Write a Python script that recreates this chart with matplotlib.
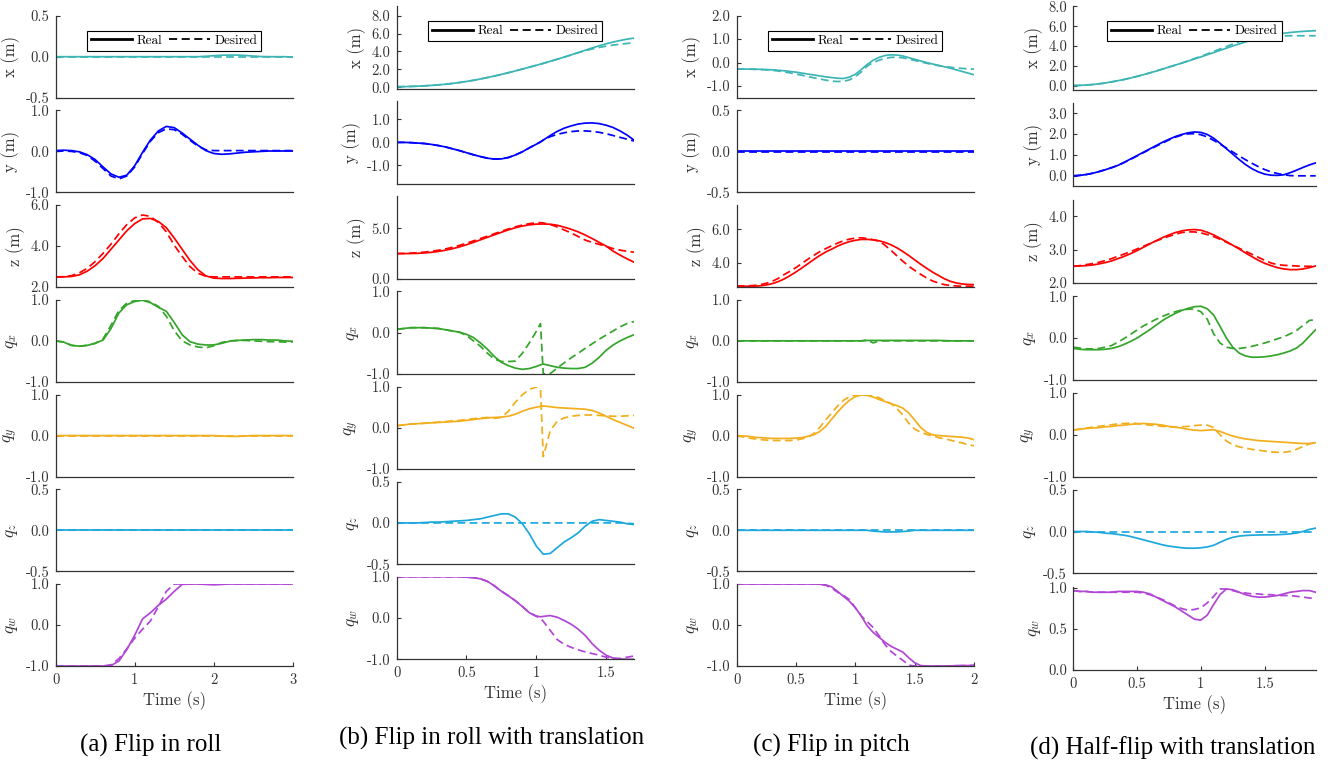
import matplotlib
matplotlib.use('Agg')
import matplotlib.pyplot as plt
from matplotlib.lines import Line2D
from matplotlib.ticker import FormatStrFormatter

plt.rcParams['font.family'] = 'cmr10'
plt.rcParams['mathtext.fontset'] = 'cm'
plt.rcParams['axes.unicode_minus'] = False

# ---------------- (a) Flip in roll ----------------
t_a = [0.0, 0.1, 0.2, 0.3, 0.4, 0.5, 0.6, 0.7, 0.8, 0.9, 1.0, 1.1, 1.2, 1.3, 1.4, 1.5,
       1.6, 1.7, 1.8, 1.9, 2.0, 2.1, 2.2, 2.3, 2.4, 2.5, 2.6, 2.7, 2.8, 2.9, 3.0]
xa_real = [0.0, 0.0, 0.0, 0.0, 0.0, 0.0, 0.0, 0.0, 0.0, 0.0, 0.0, 0.0, 0.0, 0.0, 0.0, 0.0,
           0.0, 0.0, 0.0, 0.005, 0.012, 0.018, 0.02, 0.02, 0.015, 0.008, 0.002, 0.0, 0.0, 0.0, -0.005]
xa_des = [0.0, 0.0, 0.0, 0.0, 0.0, 0.0, 0.0, 0.0, 0.0, 0.0, 0.0, 0.0, 0.0, 0.0, 0.0, 0.0,
          0.0, 0.0, 0.0, 0.0, 0.0, 0.0, 0.0, 0.0, 0.0, 0.0, 0.0, 0.0, 0.0, 0.0, 0.0]
ya_real = [0.02, 0.03, 0.02, -0.01, -0.08, -0.2, -0.38, -0.55, -0.63, -0.58, -0.35, -0.02, 0.28, 0.5,
           0.61, 0.58, 0.45, 0.3, 0.15, 0.02, -0.05, -0.07, -0.06, -0.04, -0.02, -0.01, 0.0, 0.01,
           0.01, 0.01, 0.01]
ya_des = [0.0, 0.01, 0.0, -0.03, -0.1, -0.24, -0.42, -0.6, -0.67, -0.6, -0.38, -0.05, 0.25, 0.46,
          0.55, 0.53, 0.42, 0.27, 0.13, 0.04, 0.02, 0.02, 0.02, 0.02, 0.02, 0.02, 0.02, 0.02,
          0.02, 0.02, 0.02]
za_real = [2.5, 2.5, 2.52, 2.6, 2.78, 3.05, 3.4, 3.85, 4.3, 4.75, 5.1, 5.33, 5.35, 5.2, 4.9, 4.4,
           3.85, 3.3, 2.85, 2.55, 2.44, 2.42, 2.42, 2.43, 2.44, 2.45, 2.46, 2.46, 2.47, 2.47, 2.47]
za_des = [2.5, 2.51, 2.56, 2.7, 2.92, 3.25, 3.65, 4.1, 4.6, 5.05, 5.38, 5.52, 5.45, 5.15, 4.7, 4.05,
          3.5, 3.0, 2.68, 2.53, 2.5, 2.5, 2.5, 2.5, 2.5, 2.5, 2.5, 2.5, 2.5, 2.5, 2.5]
qxa_real = [0.0, -0.03, -0.11, -0.13, -0.11, -0.06, 0.02, 0.3, 0.68, 0.88, 0.96, 0.99, 0.93, 0.82,
            0.72, 0.45, 0.15, -0.02, -0.08, -0.1, -0.1, -0.06, -0.01, 0.01, 0.02, 0.03, 0.03, 0.02,
            0.02, 0.0, -0.01]
qxa_des = [0.0, -0.03, -0.11, -0.13, -0.11, -0.06, 0.05, 0.38, 0.74, 0.92, 0.98, 1.0, 0.95, 0.84,
           0.6, 0.25, 0.0, -0.1, -0.15, -0.17, -0.12, -0.04, 0.0, 0.01, 0.01, 0.0, -0.01, -0.02,
           -0.02, -0.03, -0.03]
qya_real = [0.0, 0.0, 0.0, 0.0, 0.0, 0.0, 0.0, 0.0, 0.0, 0.0, 0.0, 0.0, 0.0, 0.0, 0.0, 0.0,
            0.0, 0.0, 0.0, 0.0, 0.0, -0.01, -0.02, -0.02, -0.01, 0.0, 0.0, 0.0, 0.0, 0.0, 0.0]
qya_des = [0.0, 0.0, 0.0, 0.0, 0.0, 0.0, 0.0, 0.0, 0.0, 0.0, 0.0, 0.0, 0.0, 0.0, 0.0, 0.0,
           0.0, 0.0, 0.0, 0.0, 0.0, 0.0, 0.0, 0.0, 0.0, 0.0, 0.0, 0.0, 0.0, 0.0, 0.0]
qza_real = [0.0, 0.0, 0.0, 0.0, 0.0, 0.0, 0.0, 0.0, 0.0, 0.0, 0.0, 0.0, 0.0, 0.0, 0.0, 0.0,
            0.0, 0.0, 0.0, 0.0, 0.0, 0.0, 0.0, 0.0, 0.0, 0.0, 0.0, 0.0, 0.0, 0.0, 0.0]
qza_des = [0.0, 0.0, 0.0, 0.0, 0.0, 0.0, 0.0, 0.0, 0.0, 0.0, 0.0, 0.0, 0.0, 0.0, 0.0, 0.0,
           0.0, 0.0, 0.0, 0.0, 0.0, 0.0, 0.0, 0.0, 0.0, 0.0, 0.0, 0.0, 0.0, 0.0, 0.0]
qwa_real = [-1.0, -1.0, -1.0, -1.0, -1.0, -1.0, -1.0, -0.99, -0.88, -0.6, -0.25, 0.15, 0.3, 0.48,
            0.63, 0.82, 0.99, 1.0, 1.0, 0.99, 0.98, 0.99, 1.0, 1.0, 1.0, 1.0, 1.0, 1.0, 1.0, 1.0, 1.0]
qwa_des = [-1.0, -1.0, -1.0, -1.0, -1.0, -1.0, -1.0, -0.97, -0.82, -0.58, -0.32, -0.1, 0.1, 0.45,
           0.82, 1.0, 1.0, 1.0, 1.0, 1.0, 1.0, 1.0, 1.0, 1.0, 1.0, 1.0, 1.0, 1.0, 1.0, 1.0, 1.0]

# ---------------- (b) Flip in roll with translation ----------------
t_b = [0.0, 0.05, 0.1, 0.15, 0.2, 0.25, 0.3, 0.35, 0.4, 0.45, 0.5, 0.55, 0.6, 0.65, 0.7, 0.75,
       0.8, 0.85, 0.9, 0.95, 1.0, 1.03, 1.05, 1.1, 1.15, 1.2, 1.25, 1.3, 1.35, 1.4, 1.45, 1.5,
       1.55, 1.6, 1.65, 1.7]
xb_real = [0.05, 0.06, 0.08, 0.11, 0.15, 0.2, 0.26, 0.33, 0.42, 0.52, 0.64, 0.77, 0.92, 1.08, 1.25,
           1.43, 1.62, 1.82, 2.03, 2.24, 2.45, 2.58, 2.67, 2.9, 3.13, 3.37, 3.62, 3.88, 4.14, 4.4,
           4.64, 4.86, 5.06, 5.23, 5.38, 5.5]
xb_des = [0.05, 0.06, 0.08, 0.11, 0.15, 0.2, 0.26, 0.33, 0.42, 0.52, 0.64, 0.77, 0.92, 1.08, 1.25,
          1.43, 1.62, 1.82, 2.03, 2.24, 2.45, 2.58, 2.67, 2.9, 3.13, 3.37, 3.62, 3.86, 4.08, 4.28,
          4.45, 4.6, 4.72, 4.82, 4.9, 4.96]
yb_real = [0.0, 0.0, -0.01, -0.03, -0.05, -0.09, -0.14, -0.2, -0.28, -0.36, -0.45, -0.54, -0.62,
           -0.69, -0.73, -0.72, -0.66, -0.55, -0.41, -0.24, -0.08, 0.02, 0.1, 0.3, 0.48, 0.62, 0.72,
           0.8, 0.84, 0.85, 0.82, 0.75, 0.65, 0.5, 0.32, 0.1]
yb_des = [0.0, 0.0, -0.01, -0.03, -0.05, -0.09, -0.14, -0.2, -0.28, -0.36, -0.45, -0.54, -0.62,
          -0.69, -0.73, -0.72, -0.66, -0.55, -0.41, -0.24, -0.08, 0.02, 0.1, 0.25, 0.35, 0.42, 0.47,
          0.5, 0.5, 0.48, 0.44, 0.38, 0.3, 0.22, 0.14, 0.06]
zb_real = [2.5, 2.5, 2.51, 2.53, 2.57, 2.63, 2.72, 2.84, 2.99, 3.17, 3.38, 3.62, 3.87, 4.12, 4.37,
           4.62, 4.86, 5.07, 5.24, 5.36, 5.43, 5.44, 5.44, 5.42, 5.32, 5.13, 4.92, 4.66, 4.35, 4.0,
           3.62, 3.25, 2.75, 2.35, 1.98, 1.65]
zb_des = [2.5, 2.52, 2.55, 2.59, 2.65, 2.73, 2.84, 2.97, 3.13, 3.32, 3.53, 3.76, 4.0, 4.24, 4.48,
          4.72, 4.95, 5.16, 5.34, 5.48, 5.56, 5.57, 5.55, 5.4, 5.15, 4.85, 4.55, 4.2, 3.85, 3.62,
          3.42, 3.22, 3.0, 2.85, 2.73, 2.64]
qxb_real = [0.08, 0.1, 0.12, 0.12, 0.12, 0.11, 0.1, 0.07, 0.04, 0.01, -0.04, -0.12, -0.25, -0.4,
            -0.58, -0.72, -0.8, -0.86, -0.89, -0.87, -0.82, -0.78, -0.76, -0.8, -0.84, -0.86, -0.87,
            -0.87, -0.84, -0.74, -0.6, -0.43, -0.3, -0.2, -0.12, -0.05]
qxb_des = [0.08, 0.1, 0.12, 0.12, 0.12, 0.11, 0.1, 0.07, 0.04, 0.01, -0.07, -0.2, -0.33, -0.5,
           -0.64, -0.7, -0.7, -0.69, -0.5, -0.25, 0.03, 0.22, -1.0, -0.99, -0.86, -0.73, -0.61, -0.5,
           -0.38, -0.27, -0.16, -0.06, 0.04, 0.14, 0.22, 0.27]
qyb_real = [0.05, 0.07, 0.09, 0.1, 0.11, 0.12, 0.13, 0.14, 0.15, 0.16, 0.18, 0.2, 0.22, 0.24, 0.25,
            0.26, 0.28, 0.33, 0.4, 0.46, 0.5, 0.52, 0.53, 0.51, 0.49, 0.48, 0.47, 0.46, 0.45, 0.42,
            0.36, 0.28, 0.2, 0.13, 0.06, -0.01]
qyb_des = [0.05, 0.07, 0.09, 0.1, 0.11, 0.12, 0.14, 0.15, 0.17, 0.18, 0.2, 0.22, 0.24, 0.25, 0.23,
           0.25, 0.4, 0.62, 0.8, 0.93, 0.99, 0.94, -0.7, -0.07, 0.16, 0.24, 0.28, 0.3, 0.31, 0.31,
           0.3, 0.29, 0.28, 0.28, 0.29, 0.3]
qzb_real = [0.0, 0.0, 0.0, 0.0, 0.005, 0.01, 0.01, 0.015, 0.02, 0.025, 0.03, 0.04, 0.05, 0.07, 0.09,
            0.11, 0.11, 0.07, -0.01, -0.13, -0.28, -0.34, -0.38, -0.37, -0.3, -0.23, -0.18, -0.12,
            -0.04, 0.02, 0.04, 0.03, 0.02, 0.01, -0.01, -0.02]
qzb_des = [0.0, 0.0, 0.0, 0.0, 0.0, 0.0, 0.0, 0.0, 0.0, 0.0, 0.0, 0.0, 0.0, 0.0, 0.0, 0.0, 0.0,
           0.0, 0.0, 0.0, 0.0, 0.0, 0.0, 0.0, 0.0, 0.0, 0.0, 0.0, 0.0, 0.0, 0.0, 0.0, 0.0, 0.0,
           -0.005, -0.01]
qwb_real = [1.0, 1.0, 1.0, 1.0, 1.0, 1.0, 1.0, 1.0, 1.0, 1.0, 0.99, 0.98, 0.95, 0.89, 0.78, 0.65,
            0.54, 0.42, 0.28, 0.13, 0.05, 0.03, 0.04, 0.06, 0.02, -0.06, -0.15, -0.27, -0.42, -0.62,
            -0.78, -0.9, -0.97, -0.99, -1.0, -1.0]
qwb_des = [1.0, 1.0, 1.0, 1.0, 1.0, 1.0, 1.0, 1.0, 1.0, 1.0, 0.99, 0.98, 0.95, 0.89, 0.78, 0.65,
           0.54, 0.42, 0.28, 0.13, 0.04, 0.0, -0.08, -0.3, -0.52, -0.64, -0.71, -0.77, -0.82, -0.86,
           -0.9, -0.95, -0.98, -0.98, -0.95, -0.92]

# ---------------- (c) Flip in pitch ----------------
t_c = [0.0, 0.05, 0.1, 0.15, 0.2, 0.25, 0.3, 0.35, 0.4, 0.45, 0.5, 0.55, 0.6, 0.65, 0.7, 0.75,
       0.8, 0.85, 0.9, 0.95, 1.0, 1.05, 1.1, 1.15, 1.2, 1.25, 1.3, 1.35, 1.4, 1.45, 1.5, 1.55,
       1.6, 1.65, 1.7, 1.75, 1.8, 1.85, 1.9, 1.95, 2.0]
xc_real = [-0.28, -0.28, -0.28, -0.28, -0.29, -0.3, -0.31, -0.33, -0.35, -0.38, -0.41, -0.45, -0.49,
           -0.53, -0.57, -0.61, -0.64, -0.67, -0.68, -0.62, -0.5, -0.3, -0.08, 0.1, 0.22, 0.3, 0.33,
           0.32, 0.28, 0.21, 0.14, 0.07, 0.0, -0.06, -0.12, -0.18, -0.24, -0.31, -0.38, -0.45, -0.52]
xc_des = [-0.28, -0.28, -0.28, -0.29, -0.3, -0.31, -0.33, -0.36, -0.4, -0.44, -0.49, -0.54, -0.6,
          -0.65, -0.7, -0.75, -0.79, -0.81, -0.8, -0.74, -0.6, -0.4, -0.15, 0.0, 0.1, 0.18, 0.22,
          0.23, 0.2, 0.15, 0.09, 0.03, -0.03, -0.08, -0.13, -0.17, -0.2, -0.23, -0.25, -0.27, -0.28]
yc_real = [0.005, 0.005, 0.005, 0.005, 0.005, 0.005, 0.005, 0.005, 0.005, 0.005, 0.005, 0.005,
           0.005, 0.005, 0.005, 0.005, 0.005, 0.005, 0.005, 0.005, 0.005, 0.005, 0.005, 0.005,
           0.005, 0.005, 0.005, 0.005, 0.005, 0.005, 0.005, 0.005, 0.005, 0.005, 0.005, 0.005,
           0.005, 0.005, 0.005, 0.005, 0.005]
yc_des = [-0.005, -0.005, -0.005, -0.005, -0.005, -0.005, -0.005, -0.005, -0.005, -0.005, -0.005,
          -0.005, -0.005, -0.005, -0.005, -0.005, -0.005, -0.005, -0.005, -0.005, -0.005, -0.005,
          -0.005, -0.005, -0.005, -0.005, -0.005, -0.005, -0.005, -0.005, -0.005, -0.005, -0.005,
          -0.005, -0.005, -0.005, -0.005, -0.005, -0.005, -0.005, -0.005]
zc_real = [2.6, 2.6, 2.6, 2.61, 2.63, 2.68, 2.76, 2.88, 3.04, 3.24, 3.46, 3.7, 3.95, 4.2, 4.44,
           4.65, 4.82, 5.0, 5.15, 5.27, 5.35, 5.4, 5.4, 5.38, 5.32, 5.22, 5.08, 4.9, 4.68, 4.44,
           4.18, 3.92, 3.68, 3.45, 3.25, 3.05, 2.9, 2.8, 2.74, 2.71, 2.7]
zc_des = [2.62, 2.62, 2.63, 2.65, 2.7, 2.78, 2.9, 3.07, 3.3, 3.5, 3.72, 3.97, 4.22, 4.45, 4.67,
          4.85, 5.02, 5.18, 5.32, 5.42, 5.48, 5.5, 5.46, 5.38, 5.3, 5.05, 4.75, 4.42, 4.1, 3.8,
          3.55, 3.32, 3.1, 2.92, 2.8, 2.7, 2.65, 2.62, 2.6, 2.6, 2.6]
qxc_real = [0.0, 0.0, 0.0, 0.0, 0.0, 0.0, 0.0, 0.0, 0.0, 0.0, 0.0, 0.0, 0.0, 0.0, 0.0, 0.0, 0.0,
            0.0, 0.0, 0.0, 0.0, 0.0, 0.01, 0.01, 0.01, 0.01, 0.01, 0.01, 0.01, 0.01, 0.01, 0.01,
            0.01, 0.01, 0.01, 0.005, 0.0, 0.0, 0.0, 0.0, 0.0]
qxc_des = [0.0, 0.0, 0.0, 0.0, 0.0, 0.0, 0.0, 0.0, 0.0, 0.0, 0.0, 0.0, 0.0, 0.0, 0.0, 0.0, 0.0,
           0.0, 0.0, 0.0, 0.0, 0.0, 0.02, -0.05, 0.0, 0.0, 0.0, 0.0, 0.0, 0.0, 0.0, 0.0, 0.0, 0.0,
           0.0, 0.0, 0.0, 0.0, 0.0, 0.0, 0.0]
qyc_real = [0.0, -0.01, -0.02, -0.04, -0.05, -0.06, -0.07, -0.07, -0.07, -0.07, -0.06, -0.05, -0.02,
            0.02, 0.1, 0.22, 0.4, 0.57, 0.73, 0.86, 0.95, 0.99, 0.98, 0.94, 0.88, 0.83, 0.78, 0.73,
            0.67, 0.55, 0.38, 0.2, 0.08, 0.02, 0.0, -0.01, -0.02, -0.03, -0.04, -0.06, -0.1]
qyc_des = [0.0, -0.03, -0.06, -0.08, -0.1, -0.11, -0.12, -0.12, -0.12, -0.12, -0.11, -0.08, -0.04,
           0.05, 0.2, 0.38, 0.55, 0.72, 0.86, 0.95, 0.99, 1.0, 0.99, 0.97, 0.92, 0.85, 0.78, 0.66,
           0.5, 0.3, 0.16, 0.08, 0.03, -0.01, -0.05, -0.08, -0.11, -0.15, -0.18, -0.22, -0.25]
qzc_real = [0.0, 0.0, 0.0, 0.0, 0.0, 0.0, 0.0, 0.0, 0.0, 0.0, 0.0, 0.0, 0.0, 0.0, 0.0, 0.0, 0.0,
            0.0, 0.0, 0.0, 0.0, 0.0, 0.0, -0.01, -0.015, -0.02, -0.02, -0.02, -0.015, -0.01, 0.0,
            0.0, 0.0, 0.0, 0.0, 0.0, 0.0, 0.0, 0.0, 0.0, 0.0]
qzc_des = [0.0, 0.0, 0.0, 0.0, 0.0, 0.0, 0.0, 0.0, 0.0, 0.0, 0.0, 0.0, 0.0, 0.0, 0.0, 0.0, 0.0,
           0.0, 0.0, 0.0, 0.0, 0.0, 0.0, 0.0, 0.0, 0.0, 0.0, 0.0, 0.0, 0.0, 0.0, 0.0, 0.0, 0.0,
           0.0, 0.0, 0.0, 0.0, 0.0, 0.0, 0.0]
qwc_real = [1.0, 1.0, 1.0, 1.0, 1.0, 1.0, 1.0, 1.0, 1.0, 1.0, 1.0, 1.0, 1.0, 1.0, 0.995, 0.98,
            0.93, 0.82, 0.7, 0.58, 0.42, 0.22, -0.02, -0.18, -0.3, -0.42, -0.52, -0.59, -0.66, -0.8,
            -0.92, -0.99, -1.0, -1.0, -1.0, -1.0, -1.0, -0.99, -0.99, -0.99, -0.98]
qwc_des = [1.0, 1.0, 1.0, 1.0, 1.0, 1.0, 1.0, 1.0, 1.0, 1.0, 1.0, 1.0, 1.0, 1.0, 1.0, 0.97, 0.9,
           0.8, 0.72, 0.62, 0.42, 0.22, 0.08, -0.06, -0.26, -0.48, -0.64, -0.76, -0.86, -0.98, -1.0,
           -1.0, -1.0, -1.0, -1.0, -1.0, -1.0, -1.0, -0.99, -0.99, -0.99]

# ---------------- (d) Half-flip with translation ----------------
t_d = [0.0, 0.05, 0.1, 0.15, 0.2, 0.25, 0.3, 0.35, 0.4, 0.45, 0.5, 0.55, 0.6, 0.65, 0.7, 0.75,
       0.8, 0.85, 0.9, 0.95, 1.0, 1.05, 1.1, 1.15, 1.2, 1.25, 1.3, 1.35, 1.4, 1.45, 1.5, 1.55,
       1.6, 1.65, 1.7, 1.75, 1.8, 1.85, 1.9]
xd_real = [0.0, 0.02, 0.05, 0.1, 0.17, 0.26, 0.37, 0.49, 0.62, 0.77, 0.93, 1.1, 1.28, 1.47, 1.67,
           1.87, 2.07, 2.27, 2.48, 2.69, 2.9, 3.12, 3.34, 3.56, 3.78, 4.0, 4.21, 4.41, 4.6, 4.77,
           4.93, 5.07, 5.19, 5.29, 5.37, 5.43, 5.48, 5.52, 5.55]
xd_des = [0.0, 0.02, 0.05, 0.1, 0.17, 0.26, 0.37, 0.49, 0.62, 0.77, 0.93, 1.1, 1.28, 1.47, 1.67,
          1.87, 2.07, 2.27, 2.5, 2.73, 2.96, 3.2, 3.45, 3.7, 3.95, 4.2, 4.44, 4.65, 4.82, 4.94, 5.0,
          5.02, 5.03, 5.03, 5.04, 5.04, 5.04, 5.04, 5.04]
yd_real = [0.0, 0.02, 0.06, 0.12, 0.2, 0.29, 0.39, 0.5, 0.65, 0.81, 0.97, 1.13, 1.29, 1.45, 1.61,
           1.75, 1.88, 1.98, 2.06, 2.1, 2.08, 1.98, 1.8, 1.56, 1.3, 1.04, 0.78, 0.54, 0.34, 0.19,
           0.08, 0.03, 0.02, 0.05, 0.15, 0.27, 0.4, 0.52, 0.62]
yd_des = [0.0, 0.02, 0.06, 0.12, 0.2, 0.29, 0.39, 0.5, 0.64, 0.79, 0.95, 1.11, 1.27, 1.42, 1.57,
          1.72, 1.85, 1.95, 2.01, 2.02, 1.97, 1.86, 1.7, 1.52, 1.33, 1.14, 0.95, 0.77, 0.6, 0.44,
          0.3, 0.19, 0.11, 0.05, 0.01, 0.0, 0.0, 0.0, 0.0]
zd_real = [2.5, 2.51, 2.52, 2.54, 2.57, 2.61, 2.66, 2.73, 2.8, 2.88, 2.97, 3.07, 3.17, 3.27, 3.36,
           3.44, 3.51, 3.56, 3.59, 3.6, 3.58, 3.52, 3.44, 3.34, 3.24, 3.13, 3.02, 2.9, 2.79, 2.68,
           2.59, 2.52, 2.46, 2.42, 2.4, 2.4, 2.42, 2.46, 2.51]
zd_des = [2.5, 2.52, 2.55, 2.58, 2.62, 2.67, 2.73, 2.8, 2.87, 2.94, 3.02, 3.1, 3.18, 3.26, 3.33,
          3.4, 3.46, 3.51, 3.53, 3.53, 3.5, 3.45, 3.39, 3.31, 3.22, 3.13, 3.04, 2.95, 2.86, 2.77,
          2.68, 2.6, 2.55, 2.53, 2.52, 2.51, 2.5, 2.5, 2.5]
qxd_real = [-0.25, -0.27, -0.28, -0.28, -0.28, -0.27, -0.25, -0.21, -0.15, -0.08, 0.0, 0.1, 0.2,
            0.31, 0.42, 0.51, 0.59, 0.66, 0.71, 0.75, 0.76, 0.7, 0.55, 0.28, 0.0, -0.22, -0.36,
            -0.43, -0.46, -0.46, -0.45, -0.43, -0.4, -0.36, -0.31, -0.24, -0.12, 0.04, 0.2]
qxd_des = [-0.22, -0.24, -0.26, -0.26, -0.25, -0.22, -0.18, -0.1, -0.01, 0.09, 0.19, 0.29, 0.37,
           0.45, 0.52, 0.58, 0.63, 0.67, 0.69, 0.69, 0.63, 0.45, 0.1, -0.12, -0.22, -0.25, -0.25,
           -0.23, -0.2, -0.16, -0.12, -0.07, -0.02, 0.03, 0.1, 0.18, 0.3, 0.42, 0.44]
qyd_real = [0.11, 0.13, 0.15, 0.16, 0.17, 0.19, 0.2, 0.22, 0.23, 0.25, 0.26, 0.27, 0.26, 0.25, 0.23,
            0.2, 0.18, 0.16, 0.13, 0.11, 0.1, 0.11, 0.12, 0.08, 0.02, -0.03, -0.07, -0.1, -0.12,
            -0.14, -0.15, -0.16, -0.17, -0.18, -0.19, -0.2, -0.21, -0.21, -0.19]
qyd_des = [0.11, 0.14, 0.16, 0.18, 0.2, 0.22, 0.24, 0.26, 0.27, 0.28, 0.27, 0.25, 0.23, 0.22, 0.2,
           0.19, 0.18, 0.19, 0.2, 0.22, 0.23, 0.23, 0.17, 0.0, -0.15, -0.24, -0.29, -0.32, -0.35,
           -0.37, -0.39, -0.41, -0.42, -0.42, -0.4, -0.35, -0.28, -0.22, -0.19]
qzd_real = [0.0, 0.0, 0.0, -0.005, -0.01, -0.02, -0.025, -0.035, -0.045, -0.06, -0.08, -0.1, -0.12,
            -0.14, -0.16, -0.175, -0.185, -0.195, -0.2, -0.2, -0.195, -0.185, -0.165, -0.13, -0.095,
            -0.07, -0.055, -0.048, -0.044, -0.042, -0.041, -0.04, -0.038, -0.034, -0.028, -0.018,
            0.0, 0.025, 0.04]
qzd_des = [0.0, 0.0, 0.0, 0.0, 0.0, 0.0, 0.0, 0.0, 0.0, 0.0, 0.0, 0.0, 0.0, 0.0, 0.0, 0.0, 0.0,
           0.0, 0.0, 0.0, 0.0, 0.0, 0.0, 0.0, 0.0, 0.0, 0.0, 0.0, 0.0, 0.0, 0.0, 0.0, 0.0, 0.0,
           0.0, 0.0, 0.0, 0.0, 0.0]
qwd_real = [0.97, 0.96, 0.96, 0.95, 0.95, 0.95, 0.95, 0.96, 0.96, 0.96, 0.96, 0.95, 0.93, 0.89, 0.85,
            0.81, 0.77, 0.72, 0.67, 0.62, 0.61, 0.67, 0.8, 0.92, 0.99, 0.98, 0.95, 0.92, 0.9, 0.89,
            0.89, 0.9, 0.91, 0.93, 0.95, 0.96, 0.97, 0.97, 0.95]
qwd_des = [0.97, 0.96, 0.96, 0.95, 0.95, 0.95, 0.95, 0.95, 0.95, 0.95, 0.95, 0.94, 0.92, 0.89, 0.86,
           0.82, 0.78, 0.75, 0.73, 0.74, 0.76, 0.82, 0.9, 0.99, 0.99, 0.97, 0.95, 0.94, 0.93, 0.93,
           0.92, 0.92, 0.91, 0.91, 0.91, 0.9, 0.89, 0.88, 0.87]

ylabels = ['x (m)', 'y (m)', 'z (m)', '$q_x$', '$q_y$', '$q_z$', '$q_w$']
colors = ['#3db5b5', '#0000ff', '#ff0000', '#34a52a', '#f2ae1c', '#1ca8dd', '#b146d6']

W, H = 1330, 763

columns = [
    dict(t=t_a,
         real=[xa_real, ya_real, za_real, qxa_real, qya_real, qza_real, qwa_real],
         des=[xa_des, ya_des, za_des, qxa_des, qya_des, qza_des, qwa_des],
         ylims=[(-0.5, 0.5), (-1, 1), (2, 6), (-1, 1), (-1, 1), (-0.5, 0.5), (-1, 1)],
         yticks=[[-0.5, 0, 0.5], [-1, 0, 1], [2, 4, 6], [-1, 0, 1], [-1, 0, 1], [-0.5, 0, 0.5], [-1, 0, 1]],
         xlim=(0, 3), xticks=[0, 1, 2, 3], xlabels=['0', '1', '2', '3'],
         box=(55.7, 292.7, 15.7, 666.0), h=82.0,
         caption='(a) Flip in roll', cap=(151, 745)),
    dict(t=t_b,
         real=[xb_real, yb_real, zb_real, qxb_real, qyb_real, qzb_real, qwb_real],
         des=[xb_des, yb_des, zb_des, qxb_des, qyb_des, qzb_des, qwb_des],
         ylims=[(-0.15, 9.1), (-1.8, 1.8), (0, 8.2), (-1, 1), (-1, 1), (-0.5, 0.5), (-1, 1)],
         yticks=[[0, 2, 4, 6, 8], [-1, 0, 1], [0, 5], [-1, 0, 1], [-1, 0, 1], [-0.5, 0, 0.5], [-1, 0, 1]],
         xlim=(0, 1.7), xticks=[0, 0.5, 1, 1.5], xlabels=['0', '0.5', '1', '1.5'],
         box=(396.7, 634.0, 6.0, 659.3), h=82.5,
         caption='(b) Flip in roll with translation', cap=(491.7, 738)),
    dict(t=t_c,
         real=[xc_real, yc_real, zc_real, qxc_real, qyc_real, qzc_real, qwc_real],
         des=[xc_des, yc_des, zc_des, qxc_des, qyc_des, qzc_des, qwc_des],
         ylims=[(-1.5, 2.0), (-0.5, 0.5), (2.55, 7.45), (-1, 1), (-1, 1), (-0.5, 0.5), (-1, 1)],
         yticks=[[-1, 0, 1, 2], [-0.5, 0, 0.5], [4, 6], [-1, 0, 1], [-1, 0, 1], [-0.5, 0, 0.5], [-1, 0, 1]],
         xlim=(0, 2), xticks=[0, 0.5, 1, 1.5, 2], xlabels=['0', '0.5', '1', '1.5', '2'],
         box=(736.7, 974.0, 15.7, 666.0), h=82.0,
         caption='(c) Flip in pitch', cap=(831.7, 745)),
    dict(t=t_d,
         real=[xd_real, yd_real, zd_real, qxd_real, qyd_real, qzd_real, qwd_real],
         des=[xd_des, yd_des, zd_des, qxd_des, qyd_des, qzd_des, qwd_des],
         ylims=[(-0.4, 8.05), (-0.5, 3.5), (2.0, 4.5), (-1, 1), (-1, 1), (-0.5, 0.5), (0, 1.02)],
         yticks=[[0, 2, 4, 6, 8], [0, 1, 2, 3], [2, 3, 4], [-1, 0, 1], [-1, 0, 1], [-0.5, 0, 0.5], [0, 0.5, 1]],
         xlim=(0, 1.9), xticks=[0, 0.5, 1, 1.5], xlabels=['0', '0.5', '1', '1.5'],
         box=(1073.3, 1315.7, 6.0, 670.0), h=83.5,
         caption='(d) Half-flip with translation', cap=(1172.5, 748)),
]

DASH = (0, (4.5, 2.5))
AXCOL = '#333333'

fig = plt.figure(figsize=(W / 100, H / 100), dpi=100)

for col in columns:
    left, right, top, bottom = col['box']
    h = col['h']
    pitch = (bottom - top - h) / 6
    for i in range(7):
        y0 = top + i * pitch
        ax = fig.add_axes([left / W, 1 - (y0 + h) / H, (right - left) / W, h / H])
        ax.plot(col['t'], col['real'][i], color=colors[i], lw=1.25)
        ax.plot(col['t'], col['des'][i], color=colors[i], lw=1.25, ls=DASH)
        ax.set_xlim(*col['xlim'])
        ax.set_ylim(*col['ylims'][i])
        ax.set_yticks(col['yticks'][i])
        ax.yaxis.set_major_formatter(FormatStrFormatter('%.1f'))
        for s in ['top', 'right']:
            ax.spines[s].set_visible(False)
        for s in ['left', 'bottom']:
            ax.spines[s].set_color(AXCOL)
            ax.spines[s].set_linewidth(0.9)
        ax.tick_params(axis='y', direction='in', length=3, pad=4.5, labelsize=10.5,
                       colors=AXCOL, width=0.8)
        ax.set_ylabel(ylabels[i], fontsize=12.5 if i >= 3 else 12, color=AXCOL, labelpad=4)

        if i < 6:
            ax.tick_params(axis='x', bottom=False, labelbottom=False)
        else:
            ax.set_xticks(col['xticks'])
            ax.set_xticklabels(col['xlabels'])
            ax.tick_params(axis='x', direction='in', length=3, pad=5, labelsize=10.5,
                           colors=AXCOL, width=0.8)
            ax.set_xlabel('Time (s)', fontsize=12, color=AXCOL, labelpad=3)

        if i == 0:
            handles = [Line2D([], [], color='k', lw=2.0),
                       Line2D([], [], color='k', lw=1.3, ls=DASH)]
            leg = ax.legend(handles, ['Real', 'Desired'], loc='upper center',
                            bbox_to_anchor=(0.5, 1 - 15 / h), ncol=2, fontsize=9.5,
                            frameon=True, fancybox=False, edgecolor='k', framealpha=1,
                            borderpad=0.3, handlelength=3.1, handletextpad=0.35,
                            columnspacing=0.5, borderaxespad=0)
            leg.get_frame().set_linewidth(0.8)

    fig.text(col['cap'][0] / W, 1 - col['cap'][1] / H, col['caption'], ha='center',
             va='center', fontsize=18, family='Liberation Serif')

fig.savefig('out.png', dpi=100)
